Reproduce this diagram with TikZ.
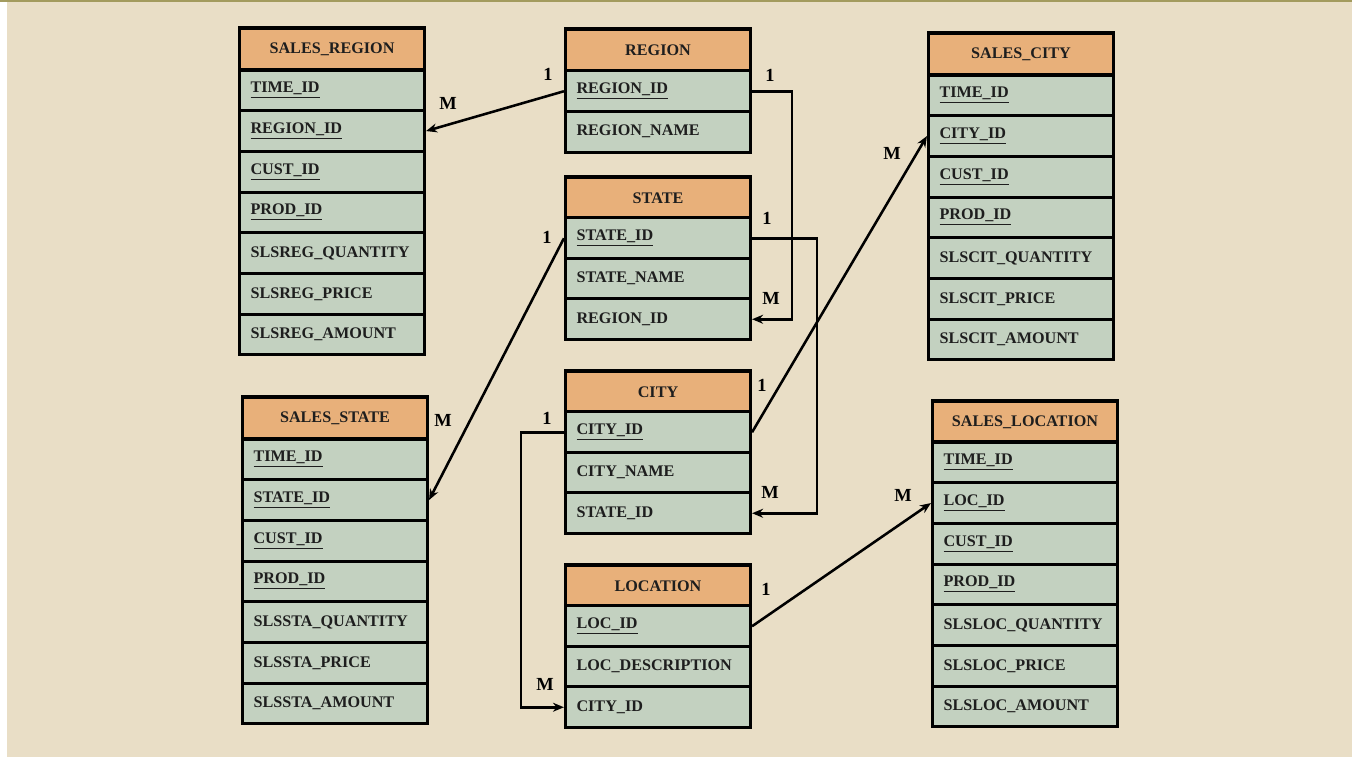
\documentclass[tikz,border=0pt]{standalone}
\usepackage{fontspec}
\setmainfont{Liberation Serif}
\usepackage{tikz}
\usetikzlibrary{arrows.meta, positioning, calc}
\definecolor{fondo}{HTML}{E9DEC6}
\definecolor{oliva}{HTML}{A39B5E}
\definecolor{naranja}{HTML}{E8B07A}
\definecolor{verdegris}{HTML}{C3D1C0}
\definecolor{tinta}{HTML}{1E1E1E}
\newcommand{\llave}[1]{\underline{#1}}
\tikzset{
  cabecera/.style={rectangle, draw=black, line width=1.8pt, fill=naranja,
    minimum width=3.7cm, minimum height=0.84cm, inner sep=0pt,
    font=\fontsize{9.2}{11}\selectfont\bfseries, text=tinta},
  campo/.style={rectangle, draw=black, line width=1.8pt, fill=verdegris,
    minimum width=3.7cm, minimum height=0.814cm, inner xsep=0.22cm,
    text width=3.26cm, align=left,
    font=\fontsize{9.2}{11}\selectfont\bfseries, text=tinta},
  card/.style={font=\fontsize{10.5}{12}\selectfont\bfseries, text=black, inner sep=1pt},
  flecha/.style={-{Stealth[length=2.2mm, width=1.8mm]}, line width=1.45pt, black},
  codo/.style={flecha, rounded corners=0pt}
}
\begin{document}
\begin{tikzpicture}[x=0.02cm, y=-0.02cm]
  \useasboundingbox (0,0) rectangle (1352,757);
  % fondo
  \fill[white] (0,0) rectangle (1352,757);
  \fill[fondo] (7,0) rectangle (1352,757);
  \draw[oliva, line width=1.2pt] (0,1) -- (1352,1);

  % --- SALES_REGION ---
  \node[cabecera] (sreg) at (332,49) {SALES\_REGION};
  \foreach \campo [count=\i] in {\llave{TIME\_ID}, \llave{REGION\_ID}, \llave{CUST\_ID},
      \llave{PROD\_ID}, SLSREG\_QUANTITY, SLSREG\_PRICE, SLSREG\_AMOUNT}
    \node[campo] (sreg-\i) at (332,{70+(\i-0.5)*40.7}) {\campo};

  % --- SALES_STATE ---
  \node[cabecera] (ssta) at (335,418) {SALES\_STATE};
  \foreach \campo [count=\i] in {\llave{TIME\_ID}, \llave{STATE\_ID}, \llave{CUST\_ID},
      \llave{PROD\_ID}, SLSSTA\_QUANTITY, SLSSTA\_PRICE, SLSSTA\_AMOUNT}
    \node[campo] (ssta-\i) at (335,{439+(\i-0.5)*40.7}) {\campo};

  % --- REGION / STATE / CITY / LOCATION ---
  \node[cabecera] (reg) at (658,50) {REGION};
  \foreach \campo [count=\i] in {\llave{REGION\_ID}, REGION\_NAME}
    \node[campo] (reg-\i) at (658,{71+(\i-0.5)*40.5}) {\campo};

  \node[cabecera] (sta) at (658,198) {STATE};
  \foreach \campo [count=\i] in {\llave{STATE\_ID}, STATE\_NAME, REGION\_ID}
    \node[campo] (sta-\i) at (658,{218+(\i-0.5)*40.5}) {\campo};

  \node[cabecera] (cit) at (658,392) {CITY};
  \foreach \campo [count=\i] in {\llave{CITY\_ID}, CITY\_NAME, STATE\_ID}
    \node[campo] (cit-\i) at (658,{412+(\i-0.5)*40.5}) {\campo};

  \node[cabecera] (loc) at (658,586) {LOCATION};
  \foreach \campo [count=\i] in {\llave{LOC\_ID}, LOC\_DESCRIPTION, CITY\_ID}
    \node[campo] (loc-\i) at (658,{606+(\i-0.5)*40.5}) {\campo};

  % --- SALES_CITY ---
  \node[cabecera] (scit) at (1021,54) {SALES\_CITY};
  \foreach \campo [count=\i] in {\llave{TIME\_ID}, \llave{CITY\_ID}, \llave{CUST\_ID},
      \llave{PROD\_ID}, SLSCIT\_QUANTITY, SLSCIT\_PRICE, SLSCIT\_AMOUNT}
    \node[campo] (scit-\i) at (1021,{75+(\i-0.5)*40.7}) {\campo};

  % --- SALES_LOCATION ---
  \node[cabecera] (sloc) at (1025,422) {SALES\_LOCATION};
  \foreach \campo [count=\i] in {\llave{TIME\_ID}, \llave{LOC\_ID}, \llave{CUST\_ID},
      \llave{PROD\_ID}, SLSLOC\_QUANTITY, SLSLOC\_PRICE, SLSLOC\_AMOUNT}
    \node[campo] (sloc-\i) at (1025,{442+(\i-0.5)*40.7}) {\campo};

  % --- Relaciones ---
  \draw[flecha] (reg-1.west) -- (sreg-2.east);
  \draw[codo] (reg-1.east) -- ++(40,0) |- (sta-3.east);
  \draw[flecha] (sta-1.west) -- (ssta-2.east);
  \draw[codo] (sta-1.east) -- ++(65,0) |- (cit-3.east);
  \draw[flecha] (cit-1.east) -- (scit-2.west);
  \draw[codo] (cit-1.west) -- ++(-43,0) |- (loc-3.west);
  \draw[flecha] (loc-1.east) -- (sloc-2.west);

  % Cardinalidades
  \node[card] (c1) at (548,74) {1};
  \node[card] (m1) at (448,103) {M};
  \node[card] (c2) at (770,75) {1};
  \node[card] (m2) at (771,298) {M};
  \node[card] (c3) at (547,237) {1};
  \node[card] (m3) at (443,420) {M};
  \node[card] (c4) at (767,218) {1};
  \node[card] (m4) at (770,492) {M};
  \node[card] (c5) at (762,385) {1};
  \node[card] (m5) at (892,153) {M};
  \node[card] (c6) at (547,418) {1};
  \node[card] (m6) at (545,684) {M};
  \node[card] (c7) at (766,589) {1};
  \node[card] (m7) at (903,495) {M};
\end{tikzpicture}
\end{document}
